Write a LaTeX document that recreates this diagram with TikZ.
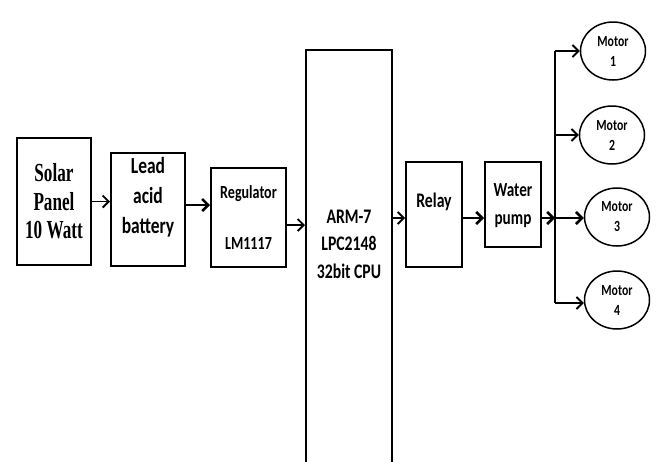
\documentclass[tikz,border=0pt]{standalone}
\usepackage{fontspec}
\usetikzlibrary{arrows.meta,shapes.geometric}
\newfontfamily\solarfont[FakeStretch=0.66]{Liberation Serif}
\newfontfamily\blockfont[FakeStretch=0.76]{Carlito}

\tikzset{
    block/.style={draw, line width=2pt, inner sep=0pt},
    label txt/.style={align=center, inner sep=0pt},
    motor/.style={draw, ellipse, line width=1.5pt, minimum width=65pt, minimum height=58pt,
        inner sep=0pt, align=center, font=\blockfont\bfseries\fontsize{15.5}{20}\selectfont},
    arr/.style={-{Straight Barb[length=6pt,width=12pt]}, line width=1.8pt},
    thick arr/.style={arr, line width=2.6pt},
}

\begin{document}
\begin{tikzpicture}[x=1pt, y=-1pt]
    \useasboundingbox (0,0) rectangle (656,461);
    \clip (0,0) rectangle (656,461);

    % Blocks of the chain
    \node[block, minimum width=74pt, minimum height=127pt] (solar) at (54,201.5) {};
    \node[block, minimum width=74pt, minimum height=113pt] (battery) at (148,209.5) {};
    \node[block, minimum width=75pt, minimum height=99pt] (regulator) at (248.5,217.5) {};
    \node[block, minimum width=86pt, minimum height=440pt] (cpu) at (349,270) {};
    \node[block, minimum width=56pt, minimum height=105pt] (relay) at (434,214.5) {};
    \node[block, minimum width=56pt, minimum height=85pt] (pump) at (513,204.5) {};

    % Block texts
    \node[label txt, font=\solarfont\bfseries\fontsize{26}{28.5}\selectfont] (solar-t) at (solar.center) {Solar\\Panel\\10 Watt};
    \node[label txt, font=\blockfont\bfseries\fontsize{23}{30}\selectfont] (battery-t) at ([yshift=12pt]battery.center) {Lead\\acid\\battery};
    \node[label txt, font=\blockfont\bfseries\fontsize{18.5}{51}\selectfont] (regulator-t) at (regulator.center) {Regulator\\LM1117};
    \node[label txt, font=\blockfont\bfseries\fontsize{20.7}{27.5}\selectfont] (cpu-t) at (349,244) {ARM-7\\LPC2148\\32bit CPU};
    \node[label txt, font=\blockfont\bfseries\fontsize{20.7}{27.5}\selectfont] (relay-t) at (434,202) {Relay};
    \node[label txt, font=\blockfont\bfseries\fontsize{20}{28}\selectfont] (pump-t) at (513,206) {Water\\pump};

    % Motors
    \node[motor] (m1) at (613,51) {Motor\\1};
    \node[motor] (m2) at (612,135) {Motor\\2};
    \node[motor] (m3) at (617,217) {Motor\\3};
    \node[motor] (m4) at (617,300) {Motor\\4};

    % Connectors along the chain
    \coordinate (b-out) at ([yshift=4.5pt]battery.east);
    \coordinate (r-out) at ([yshift=-7.5pt]regulator.east);
    \coordinate (rl-in) at ([yshift=-3.5pt]relay.west);
    \coordinate (rl-out) at ([yshift=-3.5pt]relay.east);
    \coordinate (p-out) at ([yshift=-13.5pt]pump.east);
    \draw[arr] (solar.east) -- (battery.west |- solar.east);
    \draw[thick arr] (b-out) -- (regulator.west |- b-out);
    \draw[arr] (r-out) -- (cpu.west |- r-out);
    \draw[arr] (cpu.east |- rl-in) -- (rl-in);
    \draw[thick arr] (rl-out) -- (pump.west |- rl-out);

    % Distribution to the motors
    \coordinate (t1) at (555,51);
    \coordinate (t2) at (555,135);
    \coordinate (t3) at (555,218);
    \coordinate (t4) at (555,303);
    \draw[line width=1.8pt] (t1) -- (t4);
    \draw[thick arr] (p-out) -- (t3);
    \draw[arr] (t1) -- (m1.west);
    \draw[arr] (t2) -- (m2.west);
    \draw[thick arr] (t3) -- (t3 -| m3.west);
    \draw[arr] (t4) -- (t4 -| m4.west);
\end{tikzpicture}
\end{document}
